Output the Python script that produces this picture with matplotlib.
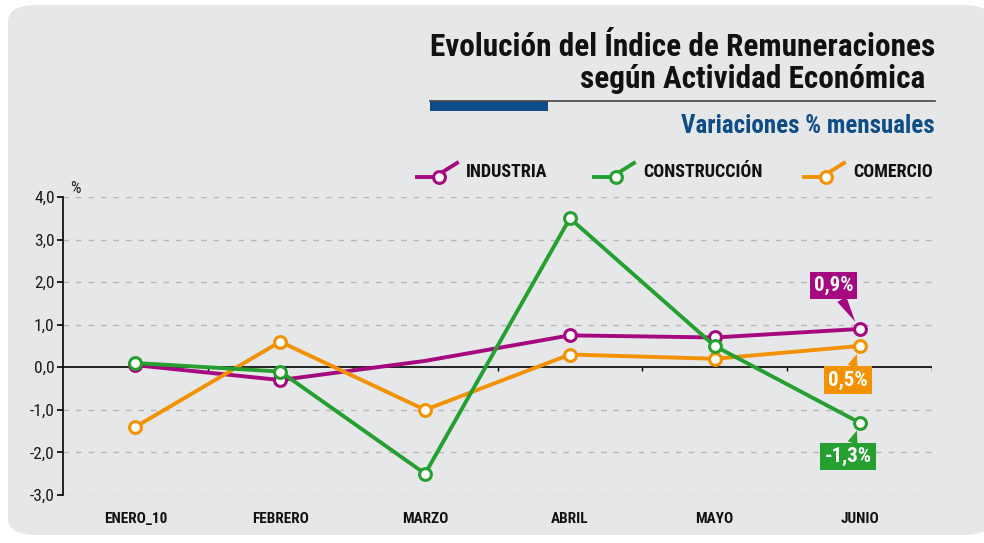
import numpy as np
import matplotlib.pyplot as plt
from matplotlib.patches import FancyBboxPatch, Rectangle
from matplotlib.lines import Line2D

plt.rcParams['font.family'] = ['Roboto Condensed', 'DejaVu Sans']

meses = ['ENERO_10', 'FEBRERO', 'MARZO', 'ABRIL', 'MAYO', 'JUNIO']
industria = [0.05, -0.3, 0.15, 0.75, 0.7, 0.9]
construccion = [0.1, -0.1, -2.5, 3.5, 0.5, -1.3]
comercio = [-1.4, 0.6, -1.0, 0.3, 0.2, 0.5]

c_ind = '#A5087F'
c_con = '#25A030'
c_com = '#F39200'

fig = plt.figure(figsize=(9.84, 5.43), dpi=100, facecolor='white')

# panel de fondo
fondo = FancyBboxPatch((8/984, 8/543), 1.0, 530/543, boxstyle='round,pad=0,rounding_size=0.03',
                       transform=fig.transFigure, facecolor='#E6E7E8', edgecolor='none', zorder=-5)
fig.patches.append(fondo)

ax = fig.add_axes([63/984, 48/543, 869/984, 298/543])
ax.set_facecolor('none')
x = np.arange(len(meses))

ax.set_xlim(-0.5, 5.5)
ax.set_ylim(-3, 4)
for v in range(-3, 5):
    if v != 0:
        ax.axhline(v, color='#B5B6B8', lw=1, ls=(0, (4, 5)), zorder=1)
ax.axhline(0, color='black', lw=1.2, zorder=2)
ax.vlines(np.arange(0.5, 6, 1), -0.08, 0, color='black', lw=1, zorder=2)

for s in ['top', 'right', 'bottom']:
    ax.spines[s].set_visible(False)
ax.spines['left'].set_linewidth(1.2)
ax.set_yticks(range(-3, 5))
ax.set_yticklabels([f'{v:.1f}'.replace('.', ',') for v in range(-3, 5)], fontsize=12.5, color='#1a1a1a')
ax.tick_params(axis='y', length=4, width=1.2, pad=2)
ax.set_xticks(x)
ax.set_xticklabels(meses, fontsize=11, fontweight='bold', color='#111111')
ax.tick_params(axis='x', length=0, pad=12)

mk = dict(marker='o', markersize=8.5, markerfacecolor='white', markeredgewidth=2.2, lw=2.8, zorder=5)
ax.plot(x, industria, color=c_ind, markevery=[0, 1, 3, 4, 5], **mk)
ax.plot(x, comercio, color=c_com, **mk)
ax.plot(x, construccion, color=c_con, **mk)

ax.text(-0.45, 4.03, '%', fontsize=12, color='#1a1a1a', va='bottom')

def etiqueta(val, col, dx, dy):
    ax.annotate(f'{val:.1f}%'.replace('.', ','), xy=(5, val), xytext=(5 + dx, val + dy),
                ha='center', va='center', fontsize=15, fontweight='bold', color='white',
                bbox=dict(boxstyle='square,pad=0.2', fc=col, ec='none'),
                arrowprops=dict(arrowstyle='wedge,tail_width=0.5,shrink_factor=0.5', fc=col, ec='none',
                                shrinkA=0, shrinkB=6), zorder=6)

etiqueta(industria[-1], c_ind, -0.18, 1.02)
etiqueta(comercio[-1], c_com, -0.08, -0.8)
etiqueta(construccion[-1], c_con, -0.08, -0.8)

# titulos
fig.text(935/984, 1 - 47/543, 'Evolución del Índice de Remuneraciones', ha='right', va='center',
         fontsize=22.5, fontweight='bold', color='#111111')
fig.text(925/984, 1 - 79/543, 'según Actividad Económica', ha='right', va='center',
         fontsize=22.5, fontweight='bold', color='#111111')
fig.add_artist(Line2D([430/984, 935/984], [1 - 101/543, 1 - 101/543], color='#444444', lw=1.2))
fig.patches.append(Rectangle((430/984, 1 - 111/543), 118/984, 10/543, transform=fig.transFigure,
                             facecolor='#0D4C86', edgecolor='none'))
fig.text(935/984, 1 - 126/543, 'Variaciones % mensuales', ha='right', va='center',
         fontsize=18, fontweight='bold', color='#0D4C86')

# leyenda
for lab, col, x0 in [('INDUSTRIA', c_ind, 417), ('CONSTRUCCIÓN', c_con, 594), ('COMERCIO', c_com, 804)]:
    y0 = 1 - 177/543
    fig.add_artist(Line2D([x0/984, (x0 + 20)/984], [y0, y0], color=col, lw=2.8))
    fig.add_artist(Line2D([(x0 + 24)/984, (x0 + 40)/984], [y0 + 4/543, 1 - 163/543], color=col, lw=2.8))
    fig.add_artist(Line2D([(x0 + 22)/984], [y0], marker='o', markersize=8.5, markerfacecolor='white',
                          markeredgecolor=col, markeredgewidth=2.2))
    fig.text((x0 + 49)/984, 1 - 172/543, lab, ha='left', va='center', fontsize=13,
             fontweight='bold', color='#111111')

fig.savefig('out.png', dpi=100, facecolor=fig.get_facecolor())
